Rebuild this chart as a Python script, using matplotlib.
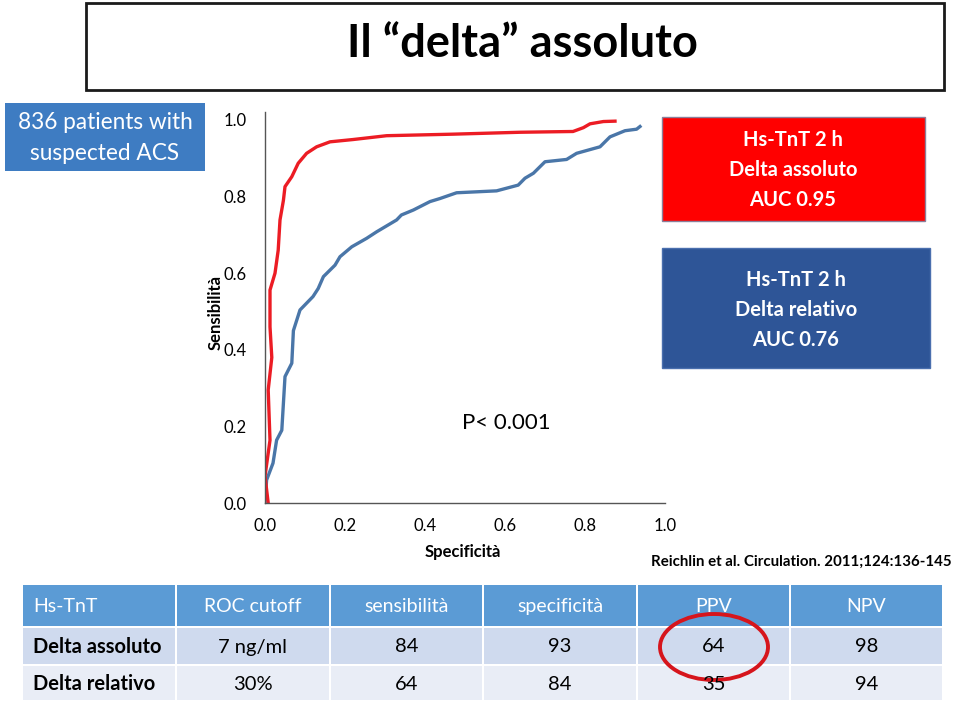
import matplotlib
matplotlib.use("Agg")
import matplotlib.pyplot as plt
from matplotlib.patches import Rectangle, Ellipse

plt.rcParams['font.family'] = ['Lato', 'DejaVu Sans']

# ---- data ----
red_spec = [0.008, 0.0, 0.0125, 0.008, 0.017, 0.0125, 0.0125, 0.025, 0.033, 0.0375, 0.046, 0.05,
            0.067, 0.083, 0.104, 0.129, 0.1625, 0.22, 0.304, 0.47, 0.6375, 0.77, 0.796, 0.8125,
            0.846, 0.875]
red_sens = [0.0, 0.07, 0.164, 0.295, 0.38, 0.46, 0.556, 0.60, 0.66, 0.739, 0.79, 0.826,
            0.852, 0.887, 0.913, 0.930, 0.943, 0.949, 0.959, 0.963, 0.968, 0.970, 0.98, 0.99,
            0.996, 0.997]
blue_spec = [0.0, 0.004, 0.02, 0.029, 0.042, 0.05, 0.067, 0.071, 0.0875, 0.12, 0.133, 0.146,
             0.175, 0.1875, 0.217, 0.254, 0.279, 0.329, 0.341, 0.371, 0.4125, 0.4375, 0.479,
             0.579, 0.633, 0.65, 0.671, 0.70, 0.754, 0.779, 0.8375, 0.8625, 0.9, 0.929, 0.9375]
blue_sens = [0.0, 0.06, 0.104, 0.164, 0.19, 0.33, 0.365, 0.45, 0.504, 0.539, 0.56, 0.591,
             0.621, 0.643, 0.669, 0.691, 0.708, 0.739, 0.752, 0.765, 0.787, 0.795, 0.810,
             0.815, 0.830, 0.848, 0.861, 0.891, 0.897, 0.913, 0.930, 0.956, 0.972, 0.976, 0.983]
ticks = [0.0, 0.2, 0.4, 0.6, 0.8, 1.0]
tick_labels = ["0.0", "0.2", "0.4", "0.6", "0.8", "1.0"]

table_header = ["Hs-TnT", "ROC cutoff", "sensibilità", "specificità", "PPV", "NPV"]
table_rows = [["Delta assoluto", "7 ng/ml", "84", "93", "64", "98"],
              ["Delta relativo", "30%", "64", "84", "35", "94"]]

W, H = 960, 703
fig = plt.figure(figsize=(W / 100, H / 100), dpi=100)
fig.patch.set_facecolor("white")

# background axes in pixel coords
bg = fig.add_axes([0, 0, 1, 1])
bg.set_xlim(0, W)
bg.set_ylim(H, 0)
bg.axis("off")

# title box
bg.add_patch(Rectangle((86, 3), 858, 87, facecolor="white", edgecolor="#1a1a1a", lw=2))
bg.text(522, 44, "Il \u201cdelta\u201d assoluto", ha="center", va="center",
        fontsize=32.5, fontweight="bold", color="black")

# patients box
bg.add_patch(Rectangle((5, 103), 200, 68, facecolor="#3E7CC2", edgecolor="none"))
bg.text(105, 138, "836 patients with\nsuspected ACS", ha="center", va="center",
        fontsize=16.3, color="white", linespacing=1.55)

# red box
bg.add_patch(Rectangle((662, 117), 263, 104, facecolor="#FF0000", edgecolor="#8a7f99", lw=1))
bg.text(793, 170, "Hs-TnT 2 h\nDelta assoluto\nAUC 0.95", ha="center", va="center",
        fontsize=14.5, fontweight="bold", color="white", linespacing=1.6)

# dark blue box
bg.add_patch(Rectangle((662, 248), 268, 120, facecolor="#2E5597", edgecolor="#4a6fae", lw=1))
bg.text(796, 310, "Hs-TnT 2 h\nDelta relativo\nAUC 0.76", ha="center", va="center",
        fontsize=14.5, fontweight="bold", color="white", linespacing=1.6)

# axis titles and notes
bg.text(216, 312, "Sensibilità", rotation=90, ha="center", va="center",
        fontsize=12, fontweight="bold")
bg.text(463, 552, "Specificità", ha="center", va="center", fontsize=12, fontweight="bold")
bg.text(952, 562, "Reichlin et al. Circulation. 2011;124:136-145", ha="right", va="center",
        fontsize=10.8, fontweight="bold")
bg.text(462, 423, "P< 0.001", ha="left", va="center", fontsize=16)

# ROC axes
x0, x1 = 265, 665
y0 = 503
ytop = 1.02
ax = fig.add_axes([x0 / W, (H - y0) / H, (x1 - x0) / W, 383 * ytop / H])
ax.plot(blue_spec, blue_sens, color="#4A76A8", lw=2.4, solid_joinstyle="round")
ax.plot(red_spec, red_sens, color="#EC1C24", lw=2.4, solid_joinstyle="round")
ax.set_xlim(0, 1.0)
ax.set_ylim(0, ytop)
ax.set_xticks(ticks)
ax.set_xticklabels(tick_labels, fontsize=12)
ax.set_yticks(ticks)
ax.set_yticklabels(tick_labels, fontsize=12)
ax.tick_params(axis="x", length=0, pad=11)
ax.tick_params(axis="y", length=0, pad=13)
for s in ["top", "right"]:
    ax.spines[s].set_visible(False)
ax.spines["left"].set_color("#555555")
ax.spines["bottom"].set_color("#555555")
ax.spines["left"].set_linewidth(1.0)
ax.spines["bottom"].set_linewidth(1.0)
ax.patch.set_alpha(0)

# table
col_edges = [22, 176, 330, 483, 637, 790, 943]
row_edges = [(585, 626), (628, 664), (666, 700)]
row_colors = ["#5B9BD5", "#CFDAEE", "#E9EDF6"]
all_rows = [table_header] + table_rows
for r, (ya, yb) in enumerate(row_edges):
    for c in range(len(col_edges) - 1):
        xa, xb = col_edges[c], col_edges[c + 1]
        bg.add_patch(Rectangle((xa + 1, ya), xb - xa - 2, yb - ya,
                               facecolor=row_colors[r], edgecolor="none"))
        txt = all_rows[r][c]
        color = "white" if r == 0 else "black"
        weight = "bold" if (r > 0 and c == 0) else "normal"
        fs = 14.5 if r > 0 else 14
        if c == 0:
            bg.text(xa + 11, (ya + yb) / 2 + 1, txt, ha="left", va="center",
                    fontsize=fs, color=color, fontweight=weight)
        else:
            bg.text((xa + xb) / 2, (ya + yb) / 2 + 1, txt, ha="center", va="center",
                    fontsize=fs, color=color, fontweight=weight)

# circle highlight
bg.add_patch(Ellipse((714, 647), 108, 66, facecolor="none", edgecolor="#D6151C", lw=2.8))

fig.savefig("out.png", dpi=100, facecolor="white")
